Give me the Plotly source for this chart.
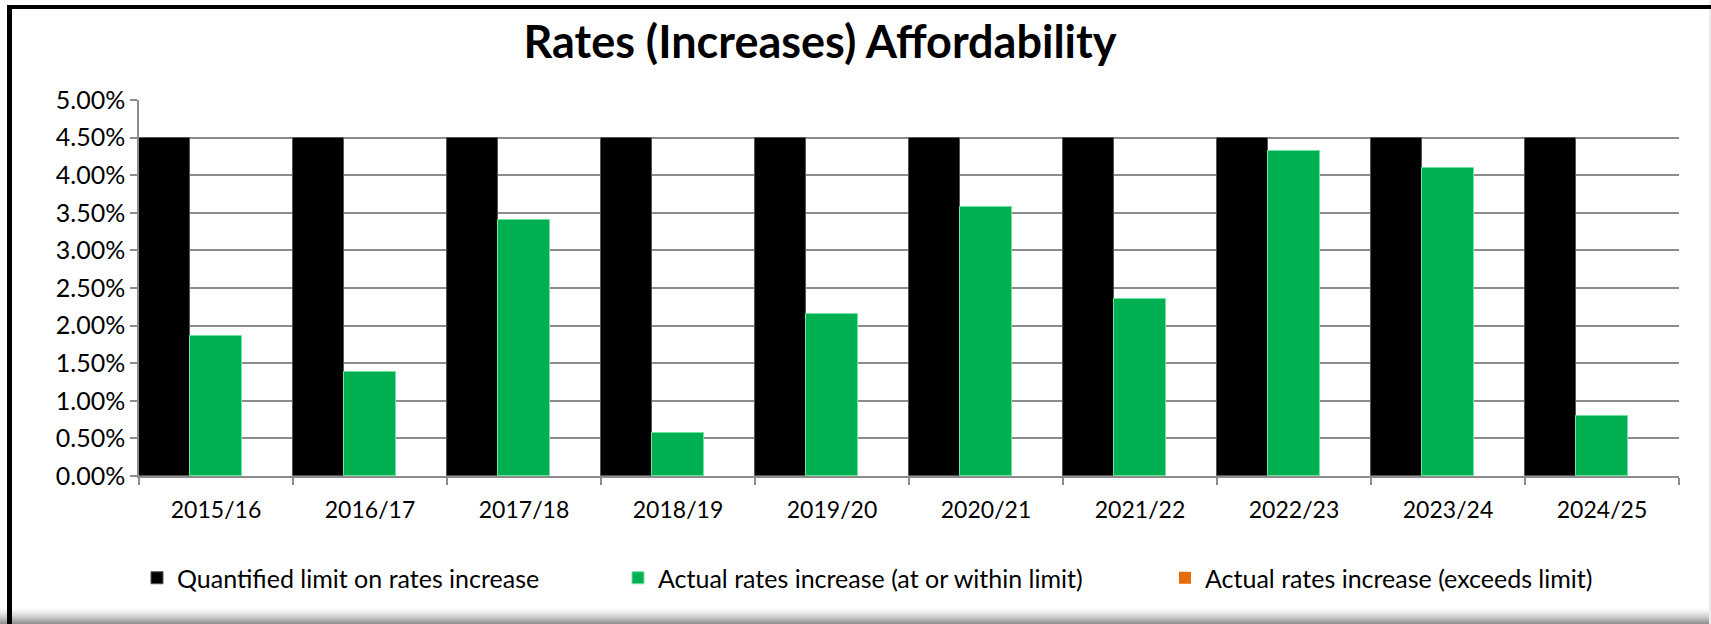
import plotly.graph_objects as go

# Financial years and rates increase data (percent as fractions)
years = ["2015/16", "2016/17", "2017/18", "2018/19", "2019/20",
         "2020/21", "2021/22", "2022/23", "2023/24", "2024/25"]
limit = [0.045, 0.045, 0.045, 0.045, 0.045, 0.045, 0.045, 0.045, 0.045, 0.045]
within_limit = [0.0186, 0.0138, 0.0341, 0.0057, 0.0215,
                0.0358, 0.0236, 0.0432, 0.0409, 0.0080]
exceeds_limit = [0, 0, 0, 0, 0, 0, 0, 0, 0, 0]

y_ticks = [i * 0.005 for i in range(11)]

W, H = 1711, 624
ML, MR, MT, MB = 139, 32, 100, 148
PW, PH = W - ML - MR, H - MT - MB

FONT = "Lato"


def px_x(px):
    return (px - ML) / PW


def px_y(py):
    return (H - MB - py) / PH


fig = go.Figure()
fig.add_trace(go.Bar(
    x=years, y=limit, name="Quantified limit on rates increase",
    marker=dict(color="#000000", line=dict(color="#555555", width=1)),
    legend="legend",
))
fig.add_trace(go.Bar(
    x=years, y=within_limit, name="Actual rates increase (at or within limit)",
    marker=dict(color="#00B050", line=dict(color="#6fe3a0", width=1)),
    legend="legend2",
))
fig.add_trace(go.Bar(
    x=years, y=exceeds_limit, name="Actual rates increase (exceeds limit)",
    marker=dict(color="#E46C0A", line=dict(width=0)),
    legend="legend3",
))

legend_common = dict(
    orientation="h", yanchor="middle", xanchor="left",
    font=dict(family=FONT, size=25, color="#000000"),
    bgcolor="rgba(0,0,0,0)", borderwidth=0,
)

shapes = []
# bottom shadow of the chart frame
shade_steps = 16
for i in range(shade_steps):
    g = int(255 - (255 - 145) * ((i + 1) / shade_steps) ** 1.5)
    shapes.append(dict(
        type="rect", xref="paper", yref="paper", layer="below",
        x0=px_x(0), x1=px_x(W), y0=px_y(H - shade_steps + i), y1=px_y(H - shade_steps + i + 1),
        fillcolor=f"rgb({g},{g},{g})", line=dict(width=0),
    ))
# faint right edge
shapes.append(dict(type="rect", xref="paper", yref="paper", layer="below",
                   x0=px_x(W - 2), x1=px_x(W), y0=px_y(H), y1=px_y(0),
                   fillcolor="#ececec", line=dict(width=0)))
# black frame on left and top
shapes.append(dict(type="rect", xref="paper", yref="paper",
                   x0=px_x(7), x1=px_x(12), y0=px_y(H), y1=px_y(5),
                   fillcolor="#000000", line=dict(width=0)))
shapes.append(dict(type="rect", xref="paper", yref="paper",
                   x0=px_x(7), x1=px_x(W), y0=px_y(9), y1=px_y(5),
                   fillcolor="#000000", line=dict(width=0)))

fig.update_layout(
    width=W, height=H,
    margin=dict(l=ML, r=MR, t=MT, b=MB),
    paper_bgcolor="#ffffff", plot_bgcolor="#ffffff",
    barmode="group", bargap=0, bargroupgap=0,
    title=dict(
        text="<b>Rates (Increases) Affordability</b>",
        x=820 / W, xref="container", xanchor="center",
        y=1 - 42 / H, yref="container", yanchor="middle",
        font=dict(family=FONT, size=45, color="#000000"),
    ),
    font=dict(family=FONT, color="#000000"),
    xaxis=dict(
        type="category", tickson="boundaries", ticks="outside", ticklen=7,
        tickcolor="#8c8c8c", tickwidth=1.5, showgrid=False,
        showline=True, linecolor="#8c8c8c", linewidth=1.5,
        tickfont=dict(family=FONT, size=23, color="#000000"),
        ticklabelstandoff=13,
    ),
    yaxis=dict(
        range=[0, 0.05], tickvals=y_ticks, tickformat=".2%",
        ticks="outside", ticklen=7, tickcolor="#8c8c8c", tickwidth=1.5,
        showgrid=True, gridcolor="#8c8c8c", gridwidth=1.5,
        showline=True, linecolor="#8c8c8c", linewidth=1.5,
        zeroline=False,
        tickfont=dict(family=FONT, size=25, color="#000000"),
    ),
    legend=dict(x=px_x(137), y=px_y(578), **legend_common),
    legend2=dict(x=px_x(618), y=px_y(578), **legend_common),
    legend3=dict(x=px_x(1165), y=px_y(578), **legend_common),
    shapes=shapes,
    showlegend=True,
)

fig.write_html("out.html")
